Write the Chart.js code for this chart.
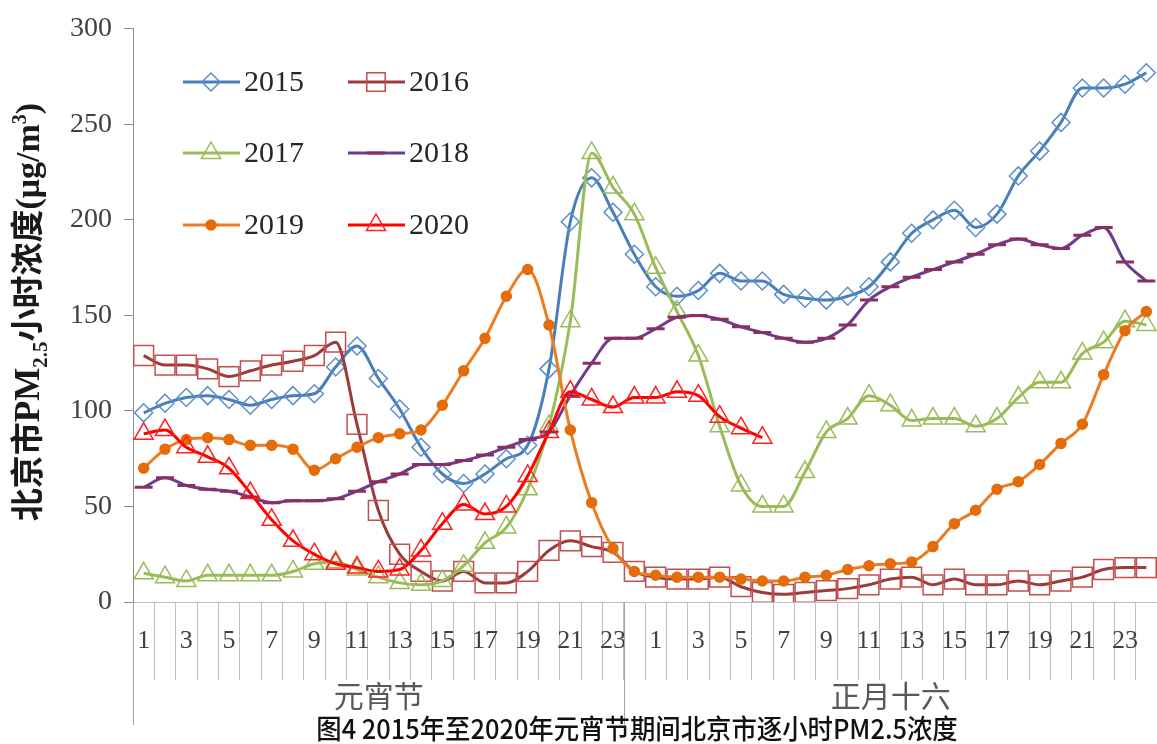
<!DOCTYPE html>
<html>
<head>
<meta charset="utf-8">
<script src="https://cdn.jsdelivr.net/npm/chart.js"></script>
<style>
body { margin: 0; background: #fff; }
#wrap { position: relative; width: 1157px; height: 744px; }
#caption {
  position: absolute; left: 637px; top: 714px;
  transform: translateX(-50%) scaleX(0.94);
  font-family: "Noto Sans CJK SC", "Liberation Sans", sans-serif;
  font-weight: 500;
  font-size: 27px; line-height: 1; color: #111; white-space: nowrap;
}
</style>
</head>
<body>
<div id="wrap">
  <canvas id="chart" width="1157" height="744"></canvas>
  <div id="caption">图4 2015年至2020年元宵节期间北京市逐小时PM2.5浓度</div>
</div>
<script>
// hours of 元宵节 then 正月十六
const hours = ['1','2','3','4','5','6','7','8','9','10','11','12','13','14','15','16','17','18','19','20','21','22','23','24',
  '1','2','3','4','5','6','7','8','9','10','11','12','13','14','15','16','17','18','19','20','21','22','23','24'];
const days = ['元宵节', '正月十六'];
const years = ['2015', '2016', '2017', '2018', '2019', '2020'];

const pm2015 = [99, 104, 107, 108, 106, 103, 106, 108, 109, 123, 134, 117, 101, 81, 67, 62, 67, 75, 82, 122, 199, 222, 204, 182,
  165, 160, 163, 172, 168, 168, 161, 159, 158, 160, 165, 178, 193, 200, 205, 196, 203, 223, 236, 251, 269, 269, 271, 277];
const pm2016 = [129, 124, 124, 122, 118, 121, 124, 126, 129, 136, 93, 48, 25, 16, 11, 16, 10, 10, 16, 27, 32, 29, 26, 16,
  13, 12, 12, 13, 8, 5, 4, 5, 6, 7, 9, 12, 13, 9, 12, 9, 9, 11, 9, 11, 13, 17, 18, 18];
const pm2017 = [15, 13, 11, 14, 14, 14, 14, 16, 20, 21, 17, 13, 10, 9, 11, 19, 31, 39, 59, 92, 147, 235, 217, 203,
  175, 152, 129, 92, 61, 50, 50, 68, 89, 96, 108, 103, 95, 96, 96, 92, 96, 107, 115, 115, 130, 136, 147, 145];
const pm2018 = [60, 65, 61, 59, 58, 55, 52, 53, 53, 54, 58, 63, 67, 72, 72, 74, 77, 81, 85, 89, 108, 125, 138, 138,
  143, 149, 150, 148, 144, 141, 138, 136, 138, 145, 158, 165, 170, 174, 178, 182, 187, 190, 187, 185, 192, 196, 178, 168];
const pm2019 = [70, 80, 85, 86, 85, 82, 82, 80, 69, 75, 81, 86, 88, 90, 103, 121, 138, 160, 174, 145, 90, 52, 28, 16,
  14, 13, 13, 13, 12, 11, 11, 13, 14, 17, 19, 20, 21, 29, 41, 48, 59, 63, 72, 83, 93, 119, 142, 152];
const pm2020 = [88, 90, 81, 76, 70, 57, 43, 32, 25, 20, 18, 16, 17, 27, 41, 51, 46, 50, 66, 89, 110, 106, 102, 107,
  107, 110, 108, 97, 91, 86, null, null, null, null, null, null, null, null, null, null, null, null,
  null, null, null, null, null, null];

const yTicks = [0, 50, 100, 150, 200, 250, 300];

const SERIF = '"Liberation Serif", "DejaVu Serif", serif';
const CJK = '"Noto Sans CJK SC", sans-serif';
const HOLLOW = 'rgba(255,255,255,0)';

function series(label, data, line, marker, style, radius, fill, order) {
  return {
    label: label,
    data: data,
    borderColor: line,
    borderWidth: 3,
    pointStyle: style,
    pointRadius: radius,
    pointBorderColor: marker,
    pointBackgroundColor: fill,
    pointBorderWidth: style === 'line' ? 3 : 1.5,
    cubicInterpolationMode: 'monotone',
    spanGaps: false,
    order: order
  };
}

const datasets = [
  series(years[0], pm2015, '#4A7EBB', '#5B8FCB', 'rectRot', 9, HOLLOW, 5),
  series(years[1], pm2016, '#9B3B3B', '#C0504D', 'rect', 14, HOLLOW, 4),
  series(years[2], pm2017, '#9BBB59', '#9BBB59', 'triangle', 11, HOLLOW, 3),
  series(years[3], pm2018, '#6E3B8F', '#8B2F5F', 'line', 9, '#8B2F5F', 2),
  series(years[4], pm2019, '#EC7C22', '#E46C0A', 'circle', 5, '#E46C0A', 1),
  series(years[5], pm2020, '#FF0000', '#FF2020', 'triangle', 11, HOLLOW, 0)
];

function drawMarker(ctx, style, x, y, r, stroke, fill) {
  ctx.save();
  ctx.strokeStyle = stroke;
  ctx.fillStyle = fill;
  ctx.lineWidth = style === 'line' ? 3 : 1.5;
  ctx.beginPath();
  if (style === 'rectRot') {
    ctx.moveTo(x, y - r); ctx.lineTo(x + r, y); ctx.lineTo(x, y + r); ctx.lineTo(x - r, y); ctx.closePath();
  } else if (style === 'rect') {
    const h = r * Math.SQRT1_2;
    ctx.rect(x - h, y - h, 2 * h, 2 * h);
  } else if (style === 'triangle') {
    ctx.moveTo(x, y - r);
    ctx.lineTo(x + r * 0.866, y + r * 0.5);
    ctx.lineTo(x - r * 0.866, y + r * 0.5);
    ctx.closePath();
  } else if (style === 'circle') {
    ctx.arc(x, y, r, 0, Math.PI * 2);
  } else if (style === 'line') {
    ctx.moveTo(x - r, y); ctx.lineTo(x + r, y);
  }
  if (style !== 'line') ctx.fill();
  ctx.stroke();
  ctx.restore();
}

const extras = {
  id: 'extras',
  afterDraw(chart) {
    const ctx = chart.ctx;
    const area = chart.chartArea;
    const x = chart.scales.x;
    const lineBottom = 725;
    const split = Math.round((x.getPixelForValue(22) + x.getPixelForValue(23)) / 2) + 0.5;

    ctx.save();
    // long lines below the axis
    ctx.strokeStyle = '#A6A6A6';
    ctx.lineWidth = 1;
    ctx.beginPath();
    ctx.moveTo(Math.round(area.left) + 0.5, area.bottom);
    ctx.lineTo(Math.round(area.left) + 0.5, lineBottom);
    ctx.moveTo(split, area.bottom);
    ctx.lineTo(split, lineBottom);
    ctx.stroke();

    // day group labels
    ctx.fillStyle = '#595959';
    ctx.font = '30px ' + CJK;
    ctx.textAlign = 'center';
    ctx.textBaseline = 'middle';
    ctx.fillText(days[0], (area.left + split) / 2, 696);
    ctx.fillText(days[1], (split + area.right) / 2, 696);

    // y axis title with sub/superscripts
    const parts = [
      { t: '北京市', f: 'bold 33px ' + CJK, dy: 0 },
      { t: 'PM', f: 'bold 35px ' + SERIF, dy: 0 },
      { t: '2.5', f: 'bold 21px ' + SERIF, dy: 8 },
      { t: '小时浓度', f: 'bold 33px ' + CJK, dy: 0 },
      { t: '(μg/m', f: 'bold 34px ' + SERIF, dy: 0 },
      { t: '3', f: 'bold 20px ' + SERIF, dy: -13 },
      { t: ')', f: 'bold 34px ' + SERIF, dy: 0 }
    ];
    let total = 0;
    parts.forEach(p => { ctx.font = p.f; p.w = ctx.measureText(p.t).width; total += p.w; });
    ctx.translate(27, 312);
    ctx.rotate(-Math.PI / 2);
    ctx.fillStyle = '#1a1a1a';
    ctx.textAlign = 'left';
    ctx.textBaseline = 'alphabetic';
    let pos = -total / 2;
    parts.forEach(p => {
      ctx.font = p.f;
      ctx.fillText(p.t, pos, 12 + p.dy);
      pos += p.w;
    });
    ctx.restore();

    // legend, two columns by three rows
    const cols = [183, 348];
    const rows = [82, 153, 225];
    chart.data.datasets.forEach((ds, i) => {
      const x0 = cols[i % 2];
      const y0 = rows[Math.floor(i / 2)];
      ctx.save();
      ctx.strokeStyle = ds.borderColor;
      ctx.lineWidth = 3;
      ctx.beginPath();
      ctx.moveTo(x0, y0);
      ctx.lineTo(x0 + 57, y0);
      ctx.stroke();
      drawMarker(ctx, ds.pointStyle, x0 + 28, y0, ds.pointStyle === 'rect' ? 13 : ds.pointRadius,
        ds.pointBorderColor, ds.pointBackgroundColor);
      ctx.fillStyle = '#262626';
      ctx.font = '30px ' + SERIF;
      ctx.textBaseline = 'middle';
      ctx.fillText(ds.label, x0 + 61, y0 + 1);
      ctx.restore();
    });
  }
};

new Chart(document.getElementById('chart'), {
  type: 'line',
  data: { labels: hours, datasets: datasets },
  options: {
    responsive: false,
    animation: false,
    layout: { autoPadding: false, padding: { top: 22, right: 0, bottom: 64, left: 0 } },
    plugins: { legend: { display: false }, tooltip: { enabled: false } },
    scales: {
      x: {
        type: 'category',
        offset: true,
        afterFit: s => { s.height = 78; },
        border: { display: true, color: '#BFBFBF' },
        grid: { offset: true, drawOnChartArea: false, drawTicks: true, tickLength: 78, color: '#BFBFBF' },
        ticks: {
          autoSkip: false, maxRotation: 0, padding: -54,
          color: '#404040',
          font: { family: SERIF, size: 26 },
          callback: (v, i) => (i % 2 === 0 ? hours[i] : '')
        }
      },
      y: {
        min: 0, max: 300,
        afterFit: s => { s.width = 133; },
        afterBuildTicks: s => { s.ticks = yTicks.map(v => ({ value: v })); },
        border: { display: true, color: '#8C8C8C' },
        grid: { drawOnChartArea: false, tickLength: 9, color: '#8C8C8C' },
        ticks: { padding: 12, color: '#404040', font: { family: SERIF, size: 28 } }
      }
    }
  },
  plugins: [extras]
});
</script>
</body>
</html>
